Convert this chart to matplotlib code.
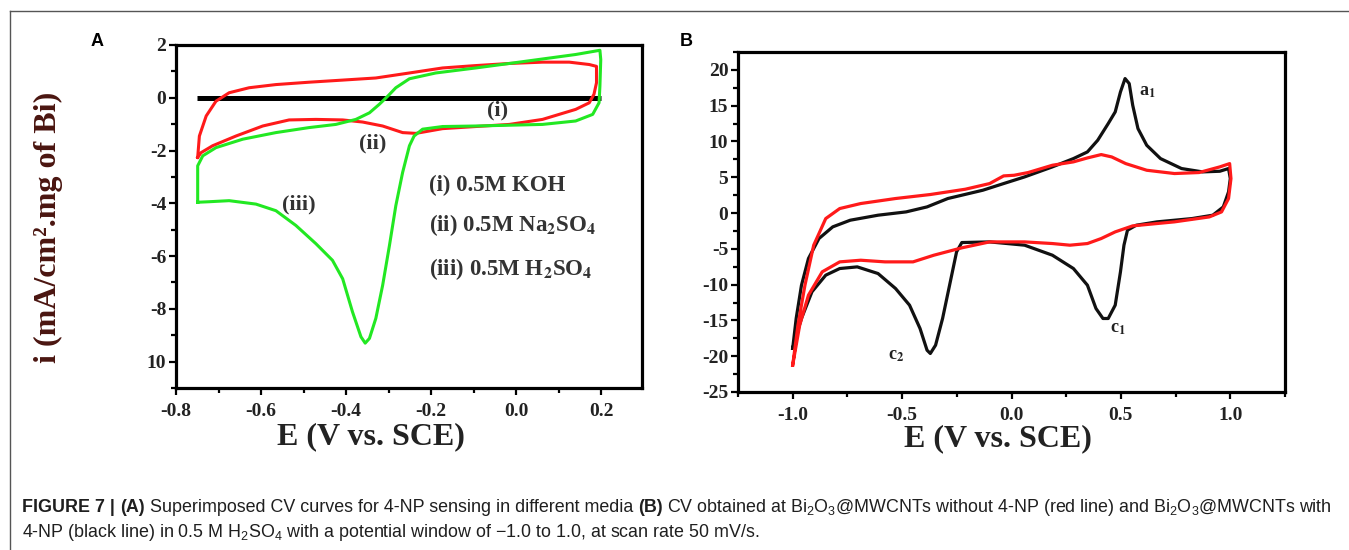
import matplotlib
matplotlib.use("Agg")
import matplotlib.pyplot as plt
from matplotlib.lines import Line2D
from matplotlib.ticker import MultipleLocator

plt.rcParams['mathtext.fontset'] = 'custom'
plt.rcParams['mathtext.rm'] = 'Liberation Sans'
plt.rcParams['mathtext.bf'] = 'Liberation Sans:bold'
plt.rcParams['mathtext.it'] = 'Liberation Sans:italic'

# ---- panel A : CV in different media ----
koh_x = [-0.75, 0.20]
koh_y = [0.0, 0.0]

na2so4_x = [-0.749, -0.745, -0.729, -0.706, -0.675, -0.628, -0.565, -0.487, -0.408, -0.330,
            -0.251, -0.173, -0.095, -0.016, 0.062, 0.125, 0.172, 0.189,
            0.189, 0.183, 0.172, 0.140, 0.062, -0.016, -0.095, -0.173, -0.236, -0.267,
            -0.314, -0.361, -0.408, -0.471, -0.534, -0.596, -0.659, -0.714, -0.741, -0.749]
na2so4_y = [-2.26, -1.45, -0.69, -0.13, 0.19, 0.38, 0.50, 0.59, 0.67, 0.75,
            0.94, 1.13, 1.22, 1.30, 1.35, 1.35, 1.26, 1.19,
            0.57, 0.13, -0.19, -0.44, -0.82, -1.01, -1.09, -1.17, -1.35, -1.32,
            -1.07, -0.92, -0.84, -0.82, -0.84, -1.07, -1.45, -1.82, -2.08, -2.26]

h2so4_x = [-0.749, -0.749, -0.737, -0.706, -0.643, -0.565, -0.487, -0.424, -0.377, -0.345,
           -0.322, -0.302, -0.283, -0.251, -0.189, -0.095, -0.016, 0.062, 0.140, 0.197,
           0.199, 0.197, 0.195, 0.180, 0.140, 0.062, -0.016, -0.095, -0.173, -0.220,
           -0.240, -0.251, -0.267, -0.283, -0.298, -0.314, -0.330, -0.345, -0.355, -0.365,
           -0.385, -0.408, -0.432, -0.471, -0.518, -0.565, -0.612, -0.675, -0.722, -0.749]
h2so4_y = [-3.96, -2.58, -2.20, -1.89, -1.57, -1.32, -1.13, -1.01, -0.82, -0.57,
           -0.25, 0.06, 0.38, 0.72, 0.94, 1.13, 1.30, 1.47, 1.64, 1.80,
           1.45, 0.44, -0.19, -0.63, -0.88, -1.01, -1.04, -1.07, -1.09, -1.19,
           -1.45, -1.82, -2.83, -4.09, -5.60, -7.11, -8.36, -9.12, -9.30, -9.06,
           -8.11, -6.86, -6.16, -5.53, -4.84, -4.28, -4.03, -3.90, -3.94, -3.96]

a_xticks = [-0.8, -0.6, -0.4, -0.2, 0.0, 0.2]
a_xticklabels = ['-0.8', '-0.6', '-0.4', '-0.2', '0.0', '0.2']
a_yticks = [2, 0, -2, -4, -6, -8, -10]
a_yticklabels = ['2', '0', '-2', '-4', '-6', '-8', '10']

# ---- panel B : with / without 4-NP ----
with_x = [-1.0, -0.984, -0.960, -0.928, -0.880, -0.817, -0.737, -0.610, -0.482, -0.386,
          -0.291, -0.131, -0.036, 0.060, 0.187, 0.283, 0.347, 0.394, 0.442, 0.474,
          0.498, 0.519, 0.538, 0.554, 0.578, 0.618, 0.681, 0.777, 0.873, 0.952, 0.992,
          1.0, 0.992, 0.968, 0.920, 0.825, 0.665, 0.570, 0.530, 0.514, 0.498, 0.474,
          0.442, 0.418, 0.386, 0.347, 0.283, 0.187, 0.060, -0.100, -0.227, -0.251,
          -0.283, -0.315, -0.347, -0.371, -0.386, -0.418, -0.466, -0.530, -0.610, -0.705,
          -0.785, -0.849, -0.912, -0.960, -0.992, -1.0]
with_y = [-18.9, -14.7, -10.1, -6.35, -3.56, -1.93, -1.0, -0.30, 0.16, 0.86,
          2.03, 3.19, 4.12, 5.05, 6.45, 7.61, 8.54, 10.17, 12.5, 14.13,
          16.92, 18.79, 18.09, 15.06, 11.8, 9.47, 7.61, 6.22, 5.75, 5.84, 6.22,
          4.82, 2.96, 0.86, -0.30, -0.77, -1.23, -1.70, -2.40, -4.49, -8.21, -12.87,
          -14.73, -14.73, -13.33, -10.08, -7.75, -5.89, -4.49, -4.03, -4.12, -5.42,
          -10.08, -14.73, -18.46, -19.62, -19.16, -16.13, -12.87, -10.54, -8.45, -7.52,
          -7.75, -8.68, -11.0, -14.73, -17.99, -18.9]

without_x = [-1.0, -0.976, -0.944, -0.904, -0.849, -0.785, -0.689, -0.530, -0.371, -0.211,
             -0.100, -0.036, 0.012, 0.076, 0.187, 0.283, 0.347, 0.410, 0.458, 0.522,
             0.618, 0.745, 0.857, 0.952, 0.997,
             1.003, 0.992, 0.960, 0.904, 0.745, 0.554, 0.474, 0.410, 0.347, 0.267,
             0.187, 0.060, -0.100, -0.227, -0.355, -0.450, -0.578, -0.689, -0.785,
             -0.865, -0.928, -0.968, -1.0]
without_y = [-21.25, -15.66, -10.08, -4.49, -0.77, 0.63, 1.33, 2.03, 2.59, 3.33,
             4.12, 5.19, 5.28, 5.66, 6.68, 7.15, 7.70, 8.17, 7.84, 6.91,
             5.98, 5.52, 5.66, 6.45, 6.91,
             4.82, 2.03, 0.16, -0.54, -1.23, -1.79, -2.63, -3.56, -4.26, -4.49,
             -4.26, -4.03, -4.03, -4.86, -5.89, -6.82, -6.82, -6.59, -6.82,
             -8.21, -11.47, -15.66, -21.25]

b_xticks = [-1.0, -0.5, 0.0, 0.5, 1.0]
b_xticklabels = ['-1.0', '-0.5', '0.0', '0.5', '1.0']
b_yticks = [20, 15, 10, 5, 0, -5, -10, -15, -20, -25]
b_yticklabels = ['20', '15', '10', '5', '0', '-5', '-10', '-15', '-20', '-25']

W, H = 1349, 550
fig = plt.figure(figsize=(W / 100, H / 100), dpi=100)


def px(x, y):
    return x / W, 1 - y / H


serif = 'Liberation Serif'


def style_axes(ax):
    for s in ax.spines.values():
        s.set_linewidth(2.3)
    ax.tick_params(which='both', direction='out', top=False, right=False, width=1.6)
    ax.tick_params(which='major', length=5, labelsize=14)
    ax.tick_params(which='minor', length=3.5)
    for lab in ax.get_xticklabels() + ax.get_yticklabels():
        lab.set_fontfamily(serif)
        lab.set_fontweight('bold')
        lab.set_color('#222222')


# panel A
axA = fig.add_axes([176 / W, 1 - 388 / H, 466 / W, 343 / H])
axA.plot(koh_x, koh_y, color='black', lw=3.6, solid_capstyle='butt')
axA.plot(na2so4_x, na2so4_y, color='#ff1a1a', lw=2.2, solid_joinstyle='round')
axA.plot(h2so4_x, h2so4_y, color='#22e822', lw=2.2, solid_joinstyle='round')
axA.set_xlim(-0.8, 0.296)
axA.set_ylim(-11, 2)
axA.set_xticks(a_xticks)
axA.set_xticklabels(a_xticklabels)
axA.set_yticks(a_yticks)
axA.set_yticklabels(a_yticklabels)
axA.xaxis.set_minor_locator(MultipleLocator(0.1))
axA.yaxis.set_minor_locator(MultipleLocator(1))
style_axes(axA)
axA.tick_params(axis='x', pad=6)
axA.tick_params(axis='y', pad=2)

ann = dict(family=serif, weight='bold', color='#333333', fontsize=16,
           ha='center', va='center', math_fontfamily='stix')
axA.text(-0.044, -0.50, '(i)', **ann)
axA.text(-0.338, -1.72, '(ii)', **ann)
axA.text(-0.51, -4.03, '(iii)', **ann)
leg = dict(ann, ha='left', fontsize=16.5)
axA.text(-0.205, -3.33, '(i) 0.5M KOH', **leg)
axA.text(-0.205, -4.84, r'(ii) 0.5M Na$_\mathbf{2}$SO$_\mathbf{4}$', **leg)
axA.text(-0.205, -6.48, r'(iii) 0.5M H$_\mathbf{2}$SO$_\mathbf{4}$', **leg)

fig.text(*px(48, 227), 'i (mA/cm².mg of Bi)', rotation=90, ha='center', va='center',
         family=serif, weight='bold', fontsize=23, color='#4a1510')
fig.text(*px(371, 437), 'E (V vs. SCE)', ha='center', va='center',
         family=serif, weight='bold', fontsize=23, color='#222222')
fig.text(*px(97, 42), 'A', ha='center', va='center', family='Liberation Sans',
         weight='bold', fontsize=13)

# panel B
axB = fig.add_axes([738 / W, 1 - 392 / H, 547 / W, 340 / H])
axB.plot(with_x, with_y, color='#111111', lw=2.3, solid_joinstyle='round')
axB.plot(without_x, without_y, color='#ff1a1a', lw=2.3, solid_joinstyle='round')
axB.set_xlim(-1.25, 1.25)
axB.set_ylim(-25, 22.5)
axB.set_xticks(b_xticks)
axB.set_xticklabels(b_xticklabels)
axB.set_yticks(b_yticks)
axB.set_yticklabels(b_yticklabels)
axB.xaxis.set_minor_locator(MultipleLocator(0.25))
axB.yaxis.set_minor_locator(MultipleLocator(2.5))
style_axes(axB)
axB.tick_params(axis='x', pad=6)
axB.tick_params(axis='y', pad=2)

pk = dict(family=serif, weight='bold', color='#222222', fontsize=13,
          ha='center', va='center', math_fontfamily='stix')
axB.text(0.62, 17.0, r'a$_\mathbf{1}$', **pk)
axB.text(0.485, -16.1, r'c$_\mathbf{1}$', **pk)
axB.text(-0.525, -19.85, r'c$_\mathbf{2}$', **pk)

fig.text(*px(998, 439), 'E (V vs. SCE)', ha='center', va='center',
         family=serif, weight='bold', fontsize=23, color='#222222')
fig.text(*px(686, 42), 'B', ha='center', va='center', family='Liberation Sans',
         weight='bold', fontsize=13)

# frame around the figure
fig.add_artist(Line2D([10 / W, 1.0], [1 - 11 / H] * 2, color='#555555', lw=1.0))
fig.add_artist(Line2D([10 / W] * 2, [0.0, 1 - 11 / H], color='#555555', lw=1.0))

# caption
line1 = [("FIGURE 7 |", 'bold'), (" (A)", 'bold'),
         (" Superimposed CV curves for 4-NP sensing in different media ", 'normal'),
         ("(B)", 'bold'),
         (" CV obtained at Bi$_2$O$_3$@MWCNTs without 4-NP (red line) and "
          "Bi$_2$O$_3$@MWCNTs with", 'normal')]
line2 = [("4-NP (black line) in 0.5 M H$_2$SO$_4$ with a potential window of "
          "\u22121.0 to 1.0, at scan rate 50 mV/s.", 'normal')]

renderer = fig.canvas.get_renderer()
cap_font = 'Liberation Sans'


def width_of(s, weight, size):
    t = fig.text(0, 0, s, fontsize=size, weight=weight, family=cap_font)
    w = t.get_window_extent(renderer).width
    t.remove()
    return w


def draw_pieces(pieces, x0, ybase, size, dry=False):
    sp = width_of('a a', 'normal', size) - width_of('aa', 'normal', size)
    x = x0
    for s, wgt in pieces:
        lead = len(s) - len(s.lstrip(' '))
        trail = len(s) - len(s.rstrip(' '))
        core = s.strip(' ')
        x += lead * sp
        if not dry:
            fig.text(x / W, 1 - ybase / H, core, fontsize=size, weight=wgt,
                     family=cap_font, color='#1f1f1f', ha='left', va='baseline')
        x += width_of(core, wgt, size)
        x += trail * sp
    return x - x0


base = 12.0
w1 = draw_pieces(line1, 22, 512, base, dry=True)
cap_size = base * (1313 / w1)
draw_pieces(line1, 22, 512, cap_size)
draw_pieces(line2, 22, 537, cap_size)

fig.savefig('out.png', dpi=100)
